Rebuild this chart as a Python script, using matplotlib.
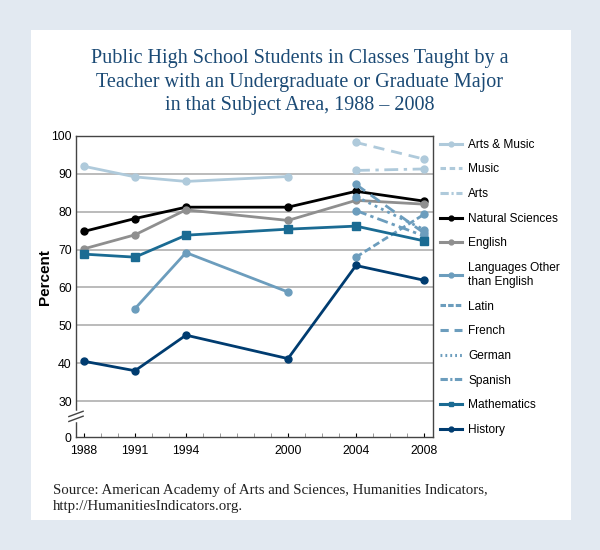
import matplotlib.pyplot as plt
import matplotlib.transforms as mtransforms
from matplotlib.lines import Line2D
import numpy as np

# Data
years = [1988, 1991, 1994, 2000, 2004, 2008]
arts_music = [92.0, 89.2, 88.0, 89.3, None, None]
music = [None, None, None, None, 98.3, 93.9]
arts = [None, None, None, None, 90.9, 91.3]
natural_sciences = [74.8, 78.2, 81.2, 81.2, 85.4, 82.8]
english = [70.2, 73.9, 80.5, 77.7, 83.0, 82.0]
languages = [None, 54.4, 69.2, 58.8, None, None]
latin = [None, None, None, None, 68.0, 79.3]
french = [None, None, None, None, 87.2, 74.4]
german = [None, None, None, None, 84.0, 75.3]
spanish = [None, None, None, None, 80.3, 73.6]
mathematics = [68.8, 68.0, 73.8, 75.4, 76.2, 72.3]
history = [40.5, 38.0, 47.4, 41.2, 65.8, 61.9]

ytick_values = [0, 30, 40, 50, 60, 70, 80, 90, 100]

# The axis is broken between 0 and 30; 0 is drawn at this position
zero_pos = 20.5

c_arts = "#afcadb"
c_lang = "#6c9dbd"
c_math = "#1a6b93"
c_hist = "#003c70"
c_nat = "#000000"
c_eng = "#8f8f8f"


def arr(v):
    return np.array([np.nan if x is None else x for x in v], dtype=float)


fig = plt.figure(figsize=(6, 5.5), dpi=100)
fig.patch.set_facecolor("#e2e9f1")

# White panel behind everything
panel = plt.Rectangle((31 / 600, 1 - 520 / 550), 540 / 600, 490 / 550,
                      transform=fig.transFigure, facecolor="white",
                      edgecolor="none", zorder=-5)
fig.patches.append(panel)

ax = fig.add_axes([76 / 600, 113 / 550, 357 / 600, 301 / 550])
ax.set_facecolor("white")

# label, values, color, line style in plot, line style in legend, marker
series = [
    ("Arts & Music", arts_music, c_arts, "-", "-", "o"),
    ("Music", music, c_arts, (0, (4, 2.5)), (0, (1.8, 1.2)), "o"),
    ("Arts", arts, c_arts, (0, (5, 2, 1.2, 2)), (0, (2.7, 0.9, 0.7, 0.9)), "o"),
    ("Natural Sciences", natural_sciences, c_nat, "-", "-", "o"),
    ("English", english, c_eng, "-", "-", "o"),
    ("Languages Other\nthan English", languages, c_lang, "-", "-", "o"),
    ("Latin", latin, c_lang, (0, (2.5, 1.2)), (0, (1.8, 0.7)), "o"),
    ("French", french, c_lang, (0, (4, 2.5)), (0, (2.7, 1.9)), "o"),
    ("German", german, c_lang, (0, (1, 1.5)), (0, (0.6, 1.0)), "o"),
    ("Spanish", spanish, c_lang, (0, (4, 1.5, 1.2, 1.5)), (0, (2.4, 0.8, 0.7, 0.8)), "o"),
    ("Mathematics", mathematics, c_math, "-", "-", "s"),
    ("History", history, c_hist, "-", "-", "o"),
]

handles = []
for label, vals, color, ls, leg_ls, mk in series:
    ax.plot(years, arr(vals), color=color, linestyle=ls, linewidth=2.0,
            marker=mk, markersize=5 if mk == "o" else 5.5, zorder=3)
    no_marker = leg_ls != "-"
    handles.append(Line2D([0], [0], color=color, linestyle=leg_ls, linewidth=2.2,
                          marker=None if no_marker else mk,
                          markersize=3.5))

ax.set_xlim(1987.53, 2008.53)
ax.set_ylim(zero_pos, 100)

ax.set_xticks(years)
ax.set_xticklabels([str(y) for y in years], fontsize=8.8, family="Liberation Sans")
ax.set_xticks(range(1988, 2009), minor=True)
ax.tick_params(axis="x", which="major", direction="in", length=3, pad=6)
ax.tick_params(axis="x", which="minor", direction="in", length=3, color="#888888")

ypos = [zero_pos if v == 0 else v for v in ytick_values]
ax.set_yticks(ypos)
ax.set_yticklabels([str(v) for v in ytick_values], fontsize=8.8,
                   family="Liberation Sans")
ax.tick_params(axis="y", which="major", length=0, pad=3)

for v in ytick_values:
    if 0 < v < 100:
        ax.axhline(v, color="#b5b5b5", linewidth=1.3, zorder=1)

for s in ax.spines.values():
    s.set_color("#444444")
    s.set_linewidth(1.0)

# Axis break marks
trans = mtransforms.blended_transform_factory(ax.transAxes, ax.transData)
ax.plot([0, 0], [25.0, 27.0], color="white", linewidth=2.5,
        transform=trans, clip_on=False, zorder=4)
for yb in (25.3, 26.6):
    ax.plot([-0.02, 0.02], [yb - 0.7, yb + 0.7], color="#444444",
            linewidth=1.0, transform=trans, clip_on=False, zorder=5)

ax.set_ylabel("Percent", fontsize=11, fontweight="bold",
              family="Liberation Sans")
ax.yaxis.set_label_coords(-0.067, 0.53)

fig.legend(handles, [s[0] for s in series], loc="upper left",
           bbox_to_anchor=(435 / 600, 1 - 134 / 550), frameon=False,
           prop={"family": "Liberation Sans", "size": 8.6},
           handlelength=1.9, handletextpad=0.5, labelspacing=1.06,
           borderaxespad=0)

fig.text(0.5, 1 - 82 / 550,
         "Public High School Students in Classes Taught by a\n"
         "Teacher with an Undergraduate or Graduate Major\n"
         "in that Subject Area, 1988 \u2013 2008",
         ha="center", va="center", fontsize=14.5, color="#1b4a75",
         family="Liberation Serif", linespacing=1.29)

fig.text(53 / 600, 1 - 498 / 550,
         "Source: American Academy of Arts and Sciences, Humanities Indicators,\n"
         "http://HumanitiesIndicators.org.",
         ha="left", va="center", fontsize=10.7, color="#222222",
         family="Liberation Serif", linespacing=1.3)

fig.savefig("out.png", dpi=100, facecolor=fig.get_facecolor())
